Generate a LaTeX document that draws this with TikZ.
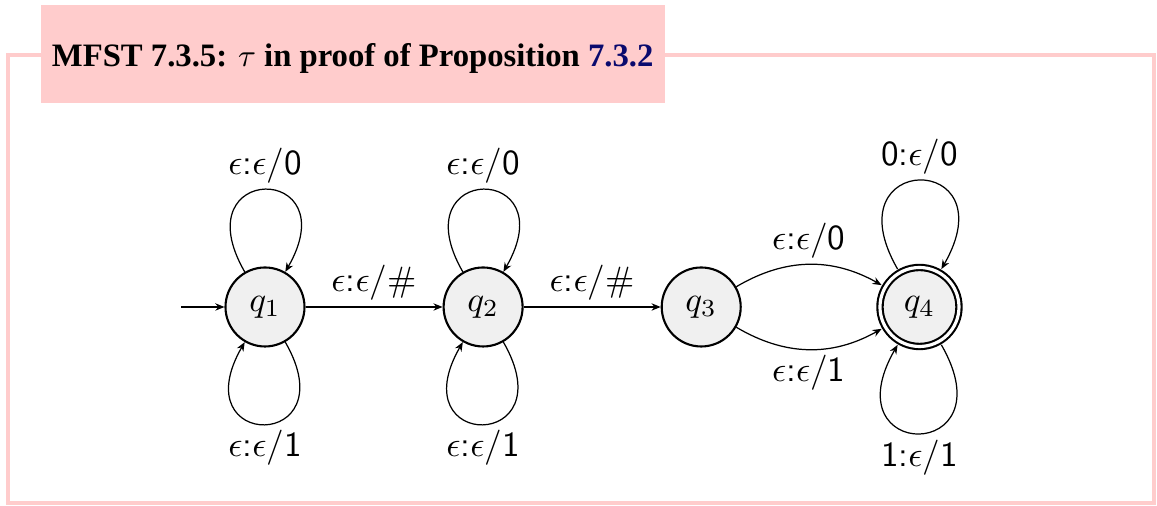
\documentclass[tikz,border=0pt]{standalone}
\usepackage{amsmath, amssymb}
\usepackage{fontspec}
\usepackage{tikz}
\usepackage{xcolor}
\usetikzlibrary{
  positioning, arrows.meta,
}
\newfontfamily\titlefont{Liberation Serif}
\definecolor{cFrame}      {HTML}{FFCCCC}
\definecolor{cLink}       {HTML}{0A0A6E}
\definecolor{cState}      {HTML}{F0F0F0}

\begin{document}
\begin{tikzpicture}[
    state/.style={circle, draw, line width=0.6pt, fill=cState, minimum size=0.79cm, inner sep=0pt},
    final/.style={double, double distance=0.9pt, outer sep=1.2pt},
    tr/.style={-{Stealth[length=2.6pt, width=2.1pt]}, line width=0.35pt},
    lbl/.style={font=\sffamily, inner sep=1.6pt},
    every loop/.style={},
    loopup/.style={out=120, in=60, loop},
    loopdown/.style={out=-60, in=-120, loop},
    titlebox/.style={fill=cFrame, minimum width=6.24cm, minimum height=0.98cm, inner sep=0pt,
      text height=7.4pt, text depth=0pt, font=\titlefont\fontsize{9.3}{11}\selectfont\bfseries},
  ]
  \useasboundingbox (0,0) rectangle (11.57,5.06);
  \draw[cFrame, line width=0.04cm] (0.08,4.51) rectangle (11.54,0.025);
  \node[titlebox, anchor=north west] (title) at (0.40,5.02)
    {MFST 7.3.5: $\tau$ in proof of Proposition \textcolor{cLink}{7.3.2}};

  \node[state] (q1) at (2.65,1.99) {$q_1$};
  \node[state, right=1.37cm of q1] (q2) {$q_2$};
  \node[state, right=1.37cm of q2] (q3) {$q_3$};
  \node[state, final, right=1.34cm of q3] (q4) {$q_4$};
  \coordinate[left=0.43cm of q1] (start);

  \path[tr]
    (start) edge (q1)
    (q1) edge[loopup] node[lbl, above] {$\epsilon$:$\epsilon$/0} (q1)
    (q1) edge[loopdown] node[lbl, below] {$\epsilon$:$\epsilon$/1} (q1)
    (q1) edge node[lbl, above] {$\epsilon$:$\epsilon$/\#} (q2)
    (q2) edge[loopup] node[lbl, above] {$\epsilon$:$\epsilon$/0} (q2)
    (q2) edge[loopdown] node[lbl, below] {$\epsilon$:$\epsilon$/1} (q2)
    (q2) edge node[lbl, above] {$\epsilon$:$\epsilon$/\#} (q3)
    (q3) edge[bend left=30] node[lbl, above] {$\epsilon$:$\epsilon$/0} (q4)
    (q3) edge[bend right=30] node[lbl, below] {$\epsilon$:$\epsilon$/1} (q4)
    (q4) edge[loopup] node[lbl, above] {0:$\epsilon$/0} (q4)
    (q4) edge[loopdown] node[lbl, below] {1:$\epsilon$/1} (q4);
\end{tikzpicture}
\end{document}
